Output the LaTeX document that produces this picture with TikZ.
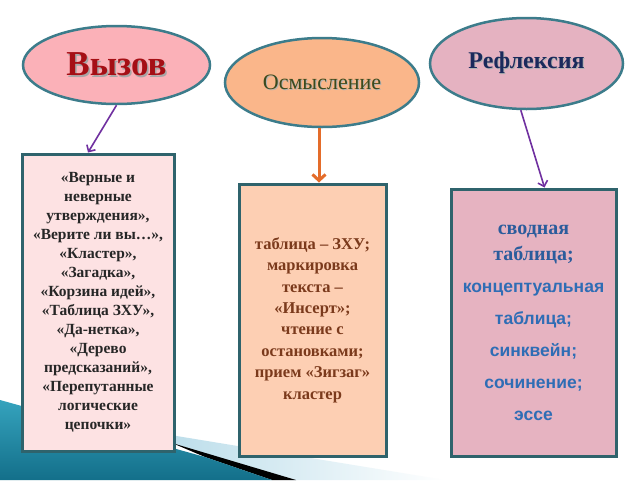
\documentclass[tikz,border=0pt]{standalone}
\usepackage{fontspec}
\setmainfont{Liberation Serif}
\newfontfamily\sansf{Liberation Sans}
\usetikzlibrary{shapes.geometric,arrows.meta,calc}
\definecolor{ovalline}{HTML}{3C7C8B}
\definecolor{cardline}{HTML}{2F636C}
\definecolor{linkpurple}{HTML}{7030A0}
\definecolor{linkorange}{HTML}{E46C2A}
\definecolor{fillA}{HTML}{FBB1B8}
\definecolor{fillB}{HTML}{FAB68A}
\definecolor{fillC}{HTML}{E5B2C1}
\definecolor{cardA}{HTML}{FDE2E3}
\definecolor{cardB}{HTML}{FDCFB3}
\definecolor{cardC}{HTML}{E6B3C1}
\definecolor{txtA}{HTML}{A50F15}
\definecolor{txtB}{HTML}{3B4A1E}
\definecolor{txtC}{HTML}{1B2A5C}
\definecolor{txtbrown}{HTML}{7B3A1C}
\definecolor{txtblue}{HTML}{2F6DB5}
\definecolor{txtnavy}{HTML}{2B5C9C}
\definecolor{tealtop}{HTML}{35A3BD}
\definecolor{tealbot}{HTML}{136F8A}
\definecolor{wisp}{HTML}{B5DAE8}
\begin{document}
\begin{tikzpicture}[x=1pt,y=-1pt,
  oval/.style={ellipse, draw=ovalline, line width=2.5pt, inner sep=0pt},
  card/.style={rectangle, draw=cardline, line width=3pt, inner sep=0pt, align=center},
  link/.style={line width=1.6pt, draw=linkpurple, -{Straight Barb[length=5pt,width=10pt]}},
  thicklink/.style={line width=3pt, draw=linkorange, -{Straight Barb[length=6pt,width=13pt]}}
]
\useasboundingbox (0,0) rectangle (640,480);
\fill[white] (0,0) rectangle (640,480);
% background swoosh
\shade[left color=wisp, right color=white] (140,430) -- (445,480) -- (290,480) -- (172,443) -- cycle;
\fill[black] (172,443) -- (296,480) -- (272,480) -- (205,457) -- cycle;
\shade[top color=tealtop, bottom color=tealbot] (0,400) -- (205,457) -- (272,480) -- (0,480) -- cycle;

% ovals
\node[oval, fill=fillA, minimum width=187pt, minimum height=78pt] (e1) at (116.5,65)
  {\fontsize{35}{38}\selectfont\bfseries{\rlap{\raisebox{-1.5pt}{\hspace{1.5pt}\color{gray!70}Вызов}}\color{txtA}Вызов}};
\node[oval, fill=fillB, minimum width=194pt, minimum height=89pt] (e2) at (322,82.5)
  {\fontsize{22}{24}\selectfont{\rlap{\raisebox{-1pt}{\hspace{1pt}\color{gray!60}Осмысление}}\color{txtB}Осмысление}};
\node[oval, fill=fillC, minimum width=193pt, minimum height=91pt] (e3) at (526.5,63.5)
  {\fontsize{24}{26}\selectfont\bfseries{\rlap{\raisebox{-1pt}{\hspace{1pt}\color{gray!60}Рефлексия}}\color{txtC}Рефлексия}};

% cards
\node[card, fill=cardA, minimum width=152pt, minimum height=297pt,
      font=\fontsize{15.5}{19}\selectfont\bfseries, text=black!85] (b1) at (98,302.5)
  {«Верные и\\неверные\\утверждения»,\\«Верите ли вы…»,\\«Кластер»,\\«Загадка»,\\«Корзина идей»,\\«Таблица ЗХУ»,\\«Да-нетка»,\\«Дерево\\предсказаний»,\\«Перепутанные\\логические\\цепочки»};
\node[card, fill=cardB, minimum width=147pt, minimum height=272pt,
      font=\fontsize{16.5}{21.4}\selectfont\bfseries, text=txtbrown] (b2) at (312.5,320)
  {таблица – ЗХУ;\\маркировка\\текста –\\«Инсерт»;\\чтение с\\остановками;\\прием «Зигзаг»\\кластер};
\node[card, fill=cardC, minimum width=165pt, minimum height=267pt,
      font=\fontsize{17.5}{32}\selectfont\bfseries, text=txtblue] (b3) at (533.5,322.5)
  {{\fontsize{20}{22}\selectfont\color{txtnavy}сводная}\\[-6pt]{\fontsize{20}{22}\selectfont\color{txtnavy}таблица;}\\{\sansf концептуальная}\\{\sansf таблица;}\\{\sansf синквейн;}\\{\sansf сочинение;}\\{\sansf эссе}};

% connectors
\draw[link] (e1.south) -- ($(b1.north)+(-10,0)$);
\draw[thicklink] ($(e2.south)+(-3,0)$) -- ($(b2.north)+(6.5,0)$);
\draw[link] (e3.-97) -- ($(b3.north)+(11,0)$);
\end{tikzpicture}
\end{document}
